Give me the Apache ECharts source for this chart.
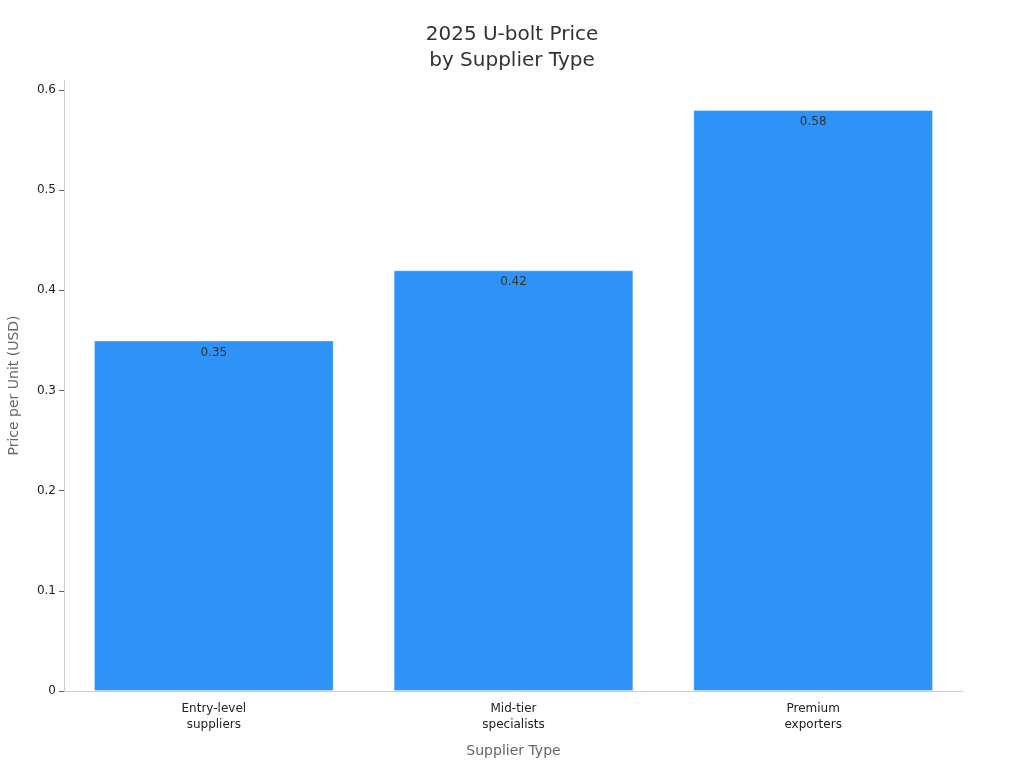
<!DOCTYPE html>
<html>
<head>
<meta charset="utf-8">
<script src="https://cdn.jsdelivr.net/npm/echarts@6/dist/echarts.min.js"></script>
<style>html,body{margin:0;padding:0;background:#fff;}#c{width:1024px;height:768px;}</style>
</head>
<body>
<div id="c"></div>
<script>
const categories = ['Entry-level\nsuppliers', 'Mid-tier\nspecialists', 'Premium\nexporters'];
const prices = [0.35, 0.42, 0.58];
const yTicks = [0, 0.1, 0.2, 0.3, 0.4, 0.5, 0.6];

const chart = echarts.init(document.getElementById('c'));
chart.setOption({
  backgroundColor: '#fff',
  animation: false,
  textStyle: { fontFamily: 'DejaVu Sans' },
  title: {
    text: '2025 U-bolt Price\nby Supplier Type',
    left: 'center',
    top: 17,
    textStyle: { fontSize: 20, fontWeight: 'normal', color: '#333', lineHeight: 26, fontFamily: 'DejaVu Sans' }
  },
  grid: { left: 64, right: 61, top: 80, bottom: 77, containLabel: false, outerBoundsMode: 'none' },
  xAxis: {
    type: 'category',
    data: categories,
    name: 'Supplier Type',
    nameLocation: 'middle',
    nameGap: 53,
    nameTextStyle: { color: '#666', fontSize: 14 },
    axisLine: { lineStyle: { color: '#ccc' } },
    axisTick: { alignWithLabel: true, length: 5, lineStyle: { color: '#666' } },
    axisLabel: { color: '#222', fontSize: 12, lineHeight: 16, margin: 10 }
  },
  yAxis: {
    type: 'value',
    min: 0,
    max: 0.61,
    interval: 0.1,
    name: 'Price per Unit (USD)',
    nameLocation: 'middle',
    nameGap: 43,
    nameTextStyle: { color: '#666', fontSize: 14 },
    axisLine: { show: true, lineStyle: { color: '#ccc' } },
    axisTick: { show: true, length: 5, lineStyle: { color: '#666' }, customValues: yTicks },
    axisLabel: { color: '#222', fontSize: 12, margin: 8, customValues: yTicks },
    splitLine: { show: false }
  },
  series: [{
    type: 'bar',
    data: prices,
    barCategoryGap: '20%',
    itemStyle: { color: '#2f92f7', borderColor: 'rgba(255,255,255,0.35)', borderWidth: 1 },
    label: { show: true, position: 'insideTop', distance: 6, color: '#333', fontSize: 12 }
  }]
});
</script>
</body>
</html>
